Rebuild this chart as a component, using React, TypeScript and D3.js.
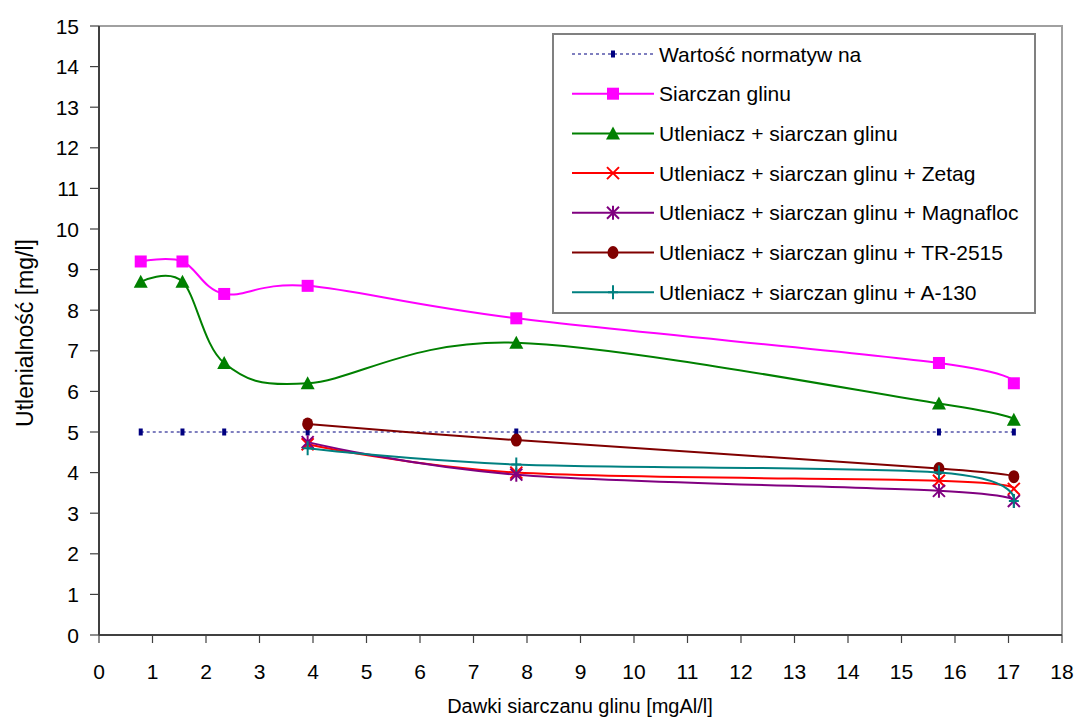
import React from 'react';
import * as d3 from 'd3';

const doses = [0.78, 1.56, 2.34, 3.9, 7.8, 15.7, 17.1];
const dosesFloc = [3.9, 7.8, 15.7, 17.1];

const normative = [5, 5, 5, 5, 5, 5, 5];
const siarczan = [9.2, 9.2, 8.4, 8.6, 7.8, 6.7, 6.2];
const utleniacz = [8.7, 8.7, 6.7, 6.2, 7.2, 5.7, 5.3];
const zetag = [4.7, 4.0, 3.8, 3.6];
const magnafloc = [4.75, 3.95, 3.55, 3.3];
const tr2515 = [5.2, 4.8, 4.1, 3.9];
const a130 = [4.6, 4.2, 4.0, 3.3];

const xTicks = d3.range(0, 19);
const yTicks = d3.range(0, 16);

type Marker = 'dot' | 'square' | 'triangle' | 'x' | 'star' | 'circle' | 'plus';

interface Series {
  name: string;
  color: string;
  marker: Marker;
  xs: number[];
  ys: number[];
  dashed?: boolean;
}

const series: Series[] = [
  { name: 'Wartość normatyw na', color: '#000080', marker: 'dot', xs: doses, ys: normative, dashed: true },
  { name: 'Siarczan glinu', color: '#FF00FF', marker: 'square', xs: doses, ys: siarczan },
  { name: 'Utleniacz + siarczan glinu', color: '#008000', marker: 'triangle', xs: doses, ys: utleniacz },
  { name: 'Utleniacz + siarczan glinu + Zetag', color: '#FF0000', marker: 'x', xs: dosesFloc, ys: zetag },
  { name: 'Utleniacz + siarczan glinu + Magnafloc', color: '#800080', marker: 'star', xs: dosesFloc, ys: magnafloc },
  { name: 'Utleniacz + siarczan glinu + TR-2515', color: '#800000', marker: 'circle', xs: dosesFloc, ys: tr2515 },
  { name: 'Utleniacz + siarczan glinu + A-130', color: '#008080', marker: 'plus', xs: dosesFloc, ys: a130 },
];

const W = 1076;
const H = 726;
const plot = { left: 99, right: 1062, top: 26, bottom: 635 };
const FONT = '"Liberation Sans", Arial, sans-serif';

const x = d3.scaleLinear().domain([0, 18]).range([plot.left, plot.right]);
const y = d3.scaleLinear().domain([0, 15]).range([plot.bottom, plot.top]);

function drawMarker(m: Marker, cx: number, cy: number, color: string, key: string) {
  switch (m) {
    case 'dot':
      return <rect key={key} x={cx - 2} y={cy - 3.5} width={4} height={7} fill={color} />;
    case 'square':
      return <rect key={key} x={cx - 6} y={cy - 6} width={12} height={12} fill={color} />;
    case 'triangle':
      return <path key={key} d={`M${cx},${cy - 7} L${cx + 7},${cy + 6} L${cx - 7},${cy + 6} Z`} fill={color} />;
    case 'x':
      return (
        <path key={key} d={`M${cx - 6},${cy - 6} L${cx + 6},${cy + 6} M${cx - 6},${cy + 6} L${cx + 6},${cy - 6}`}
          stroke={color} strokeWidth={2} fill="none" />
      );
    case 'star':
      return (
        <path key={key} d={`M${cx - 6},${cy - 6} L${cx + 6},${cy + 6} M${cx - 6},${cy + 6} L${cx + 6},${cy - 6} M${cx},${cy - 7} L${cx},${cy + 7}`}
          stroke={color} strokeWidth={2} fill="none" />
      );
    case 'circle':
      return <ellipse key={key} cx={cx} cy={cy} rx={5.5} ry={6.5} fill={color} />;
    case 'plus':
      return (
        <path key={key} d={`M${cx},${cy - 7} L${cx},${cy + 7} M${cx - 5},${cy} L${cx + 5},${cy}`}
          stroke={color} strokeWidth={2} fill="none" />
      );
  }
}

const smooth = d3.line<[number, number]>().x(d => x(d[0])).y(d => y(d[1])).curve(d3.curveCardinal.tension(0));
const straight = d3.line<[number, number]>().x(d => x(d[0])).y(d => y(d[1]));

export default function App() {
  const legend = { left: 553, top: 34, right: 1035, bottom: 313, row0: 54, step: 39.7 };
  return (
    <svg width={W} height={H} style={{ position: 'absolute', left: 0, top: 0, background: '#fff' }} fontFamily={FONT}>
      <rect x={0} y={0} width={W} height={H} fill="#fff" />
      {/* plot frame */}
      <path d={`M${plot.left},${plot.top} H${plot.right} V${plot.bottom}`} fill="none" stroke="#a0a0a0" strokeWidth={2} />
      <line x1={plot.left} x2={plot.right} y1={plot.bottom} y2={plot.bottom} stroke="#404040" strokeWidth={2} />
      <line x1={plot.left} x2={plot.left} y1={plot.top} y2={plot.bottom} stroke="#404040" strokeWidth={2} />

      {/* y axis */}
      {yTicks.map(t => (
        <g key={'y' + t}>
          <line x1={plot.left - 9} x2={plot.left} y1={y(t)} y2={y(t)} stroke="#404040" strokeWidth={1.2} />
          <text x={plot.left - 20} y={y(t)} dy="0.36em" textAnchor="end" fontSize={21}>{t}</text>
        </g>
      ))}
      {/* x axis */}
      {xTicks.map(t => (
        <g key={'x' + t}>
          <line x1={x(t)} x2={x(t)} y1={plot.bottom} y2={plot.bottom + 8} stroke="#404040" strokeWidth={1.2} />
          <text x={x(t)} y={671} dy="0.36em" textAnchor="middle" fontSize={21}>{t}</text>
        </g>
      ))}
      <text x={580} y={706} dy="0.36em" textAnchor="middle" fontSize={20}>Dawki siarczanu glinu [mgAl/l]</text>
      <text transform={`translate(25,333) rotate(-90)`} dy="0.36em" textAnchor="middle" fontSize={23}>Utlenialność [mg/l]</text>

      {/* series */}
      {series.map((s, i) => {
        const pts: [number, number][] = s.xs.map((v, j) => [v, s.ys[j]]);
        return (
          <g key={'s' + i}>
            <path d={(s.dashed ? straight : smooth)(pts) || ''} fill="none" stroke={s.color}
              strokeWidth={s.dashed ? 1.2 : 2} strokeDasharray={s.dashed ? '3,3' : undefined} />
            {pts.map((p, j) => drawMarker(s.marker, x(p[0]), y(p[1]), s.color, `m${i}-${j}`))}
          </g>
        );
      })}

      {/* legend */}
      <rect x={legend.left} y={legend.top} width={legend.right - legend.left} height={legend.bottom - legend.top}
        fill="#fff" stroke="#808080" strokeWidth={2} />
      {series.map((s, i) => {
        const cy = legend.row0 + i * legend.step;
        return (
          <g key={'l' + i}>
            <line x1={572} x2={654} y1={cy} y2={cy} stroke={s.color} strokeWidth={s.dashed ? 1.2 : 2}
              strokeDasharray={s.dashed ? '3,3' : undefined} />
            {drawMarker(s.marker, 613, cy, s.color, 'lm' + i)}
            <text x={659} y={cy} dy="0.36em" fontSize={21}>{s.name}</text>
          </g>
        );
      })}
    </svg>
  );
}
